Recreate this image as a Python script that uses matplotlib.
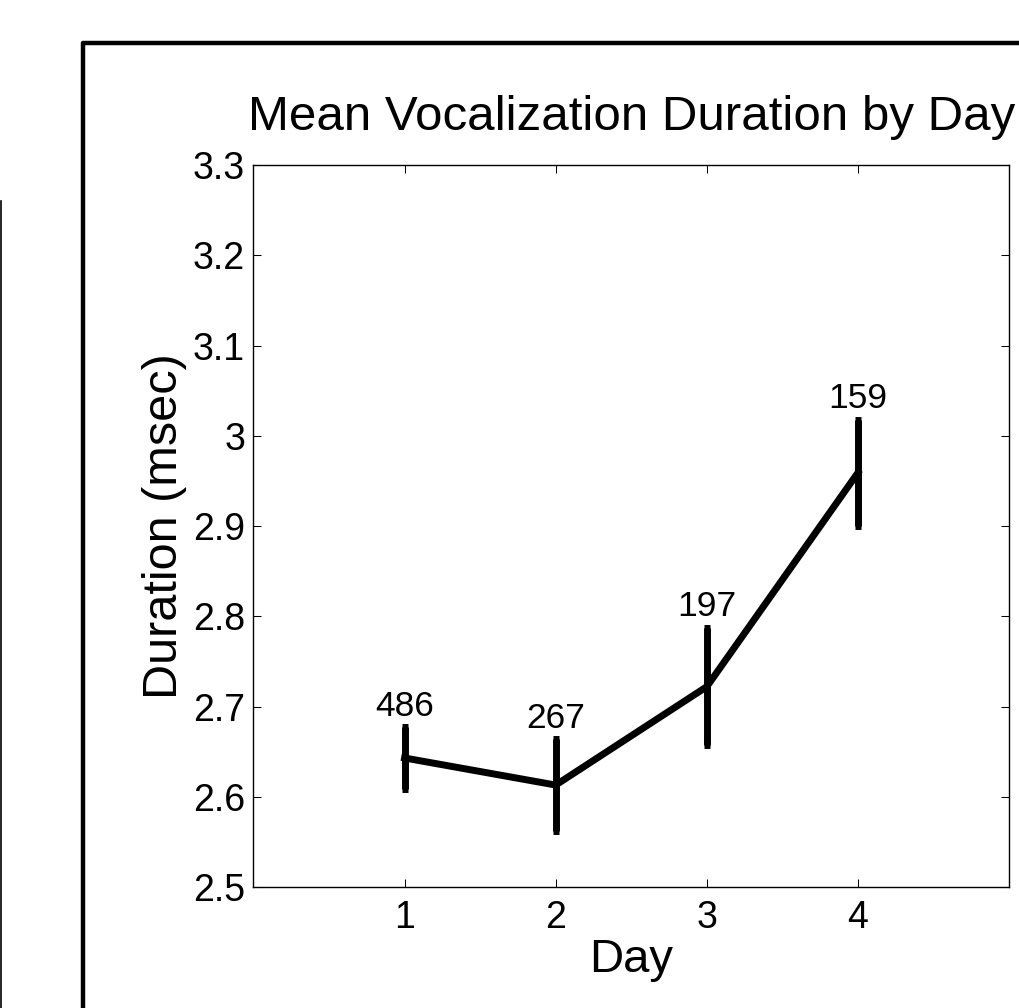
import numpy as np
import matplotlib.pyplot as plt
from matplotlib.lines import Line2D

plt.rcParams['font.family'] = ['Liberation Sans', 'DejaVu Sans']

# Date
days = [1, 2, 3, 4]
mean_dur = [2.643, 2.613, 2.722, 2.959]
err_dur = [0.034, 0.051, 0.065, 0.059]
counts = ["486", "267", "197", "159"]
yticks = [2.5, 2.6, 2.7, 2.8, 2.9, 3.0, 3.1, 3.2, 3.3]
yticklabels = ["2.5", "2.6", "2.7", "2.8", "2.9", "3", "3.1", "3.2", "3.3"]

fig = plt.figure(figsize=(10.2, 10.08), dpi=100)
ax = fig.add_axes([0.2485, 0.1200, 0.7407, 0.7163])

ax.errorbar(days, mean_dur, yerr=err_dur, color='black', linewidth=5,
            elinewidth=5, capsize=2, capthick=5)

# Numarul de vocalizari deasupra fiecarei bare de eroare
for d, m, e, c in zip(days, mean_dur, err_dur, counts):
    ax.text(d, m + e + 0.005, c, ha='center', va='bottom', fontsize=25.5)

ax.set_xlim(0, 5)
ax.set_ylim(2.5, 3.3)
ax.set_xticks(days)
ax.set_xticklabels([str(d) for d in days])
ax.set_yticks(yticks)
ax.set_yticklabels(yticklabels)
ax.tick_params(direction='in', length=6, width=0.75, labelsize=27,
               top=True, right=True)
ax.tick_params(axis='x', pad=9)
ax.tick_params(axis='y', pad=6)
for s in ax.spines.values():
    s.set_linewidth(1.0)

ax.set_title("Mean Vocalization Duration by Day", fontsize=35.5, pad=25)
ax.set_xlabel("Day", fontsize=34, labelpad=2)
ax.set_ylabel("Duration (msec)", fontsize=35, labelpad=4)

# Ramele figurii (decupate) din captura originala
fig.add_artist(Line2D([82.5 / 1020, 82.5 / 1020, 1.01], [-0.01, 1 - 43 / 1008, 1 - 43 / 1008],
                      transform=fig.transFigure, color='black', linewidth=3.2))
fig.add_artist(Line2D([1 / 1020, 1 / 1020], [-0.01, 1 - 201 / 1008],
                      transform=fig.transFigure, color='black', linewidth=1.2))

fig.savefig("out.png", dpi=100)
